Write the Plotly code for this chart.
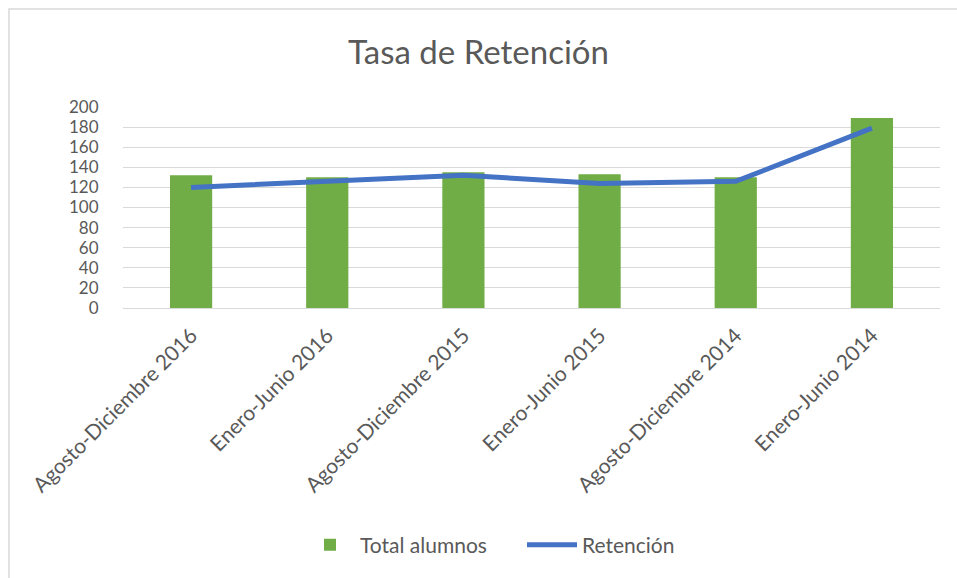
import plotly.graph_objects as go

categories = ["Agosto-Diciembre 2016", "Enero-Junio 2016", "Agosto-Diciembre 2015",
              "Enero-Junio 2015", "Agosto-Diciembre 2014", "Enero-Junio 2014"]
total_alumnos = [132, 130, 135, 133, 130, 189]
retencion = [120, 126, 132, 124, 126, 179]
y_ticks = [0, 20, 40, 60, 80, 100, 120, 140, 160, 180, 200]

FONT = "Lato"
GRAY = "#595959"

fig = go.Figure()
fig.add_trace(go.Bar(x=categories, y=total_alumnos, name="Total alumnos",
                     marker=dict(color="#70AD47", line=dict(width=0))))
fig.add_trace(go.Scatter(x=categories, y=retencion, name="Retención", mode="lines",
                         line=dict(color="#4472C4", width=5)))

L, R, T, B = 123, 17, 107, 270
W, H = 957, 578
pw, ph = W - L - R, H - T - B

fig.update_layout(
    width=W, height=H,
    margin=dict(l=L, r=R, t=T, b=B),
    paper_bgcolor="white", plot_bgcolor="white",
    font=dict(family=FONT, color=GRAY),
    title=dict(text="Tasa de Retención", x=0.5, xanchor="center",
               y=1 - 52 / H, yanchor="middle",
               font=dict(size=33, color=GRAY, family=FONT)),
    bargap=0.69,
    showlegend=True,
    legend=dict(orientation="h", x=(300 - L) / pw, xanchor="left",
                y=(H - B - 545) / ph, yanchor="middle",
                font=dict(size=21, color=GRAY), itemwidth=50,
                entrywidth=157, entrywidthmode="pixels"),
    xaxis=dict(tickangle=-45, tickfont=dict(size=21, color=GRAY),
               showgrid=False, showline=True, linecolor="#D9D9D9", linewidth=1,
               ticks="outside", tickcolor="rgba(0,0,0,0)", ticklen=6,
               fixedrange=True),
    yaxis=dict(range=[0, 200], tickvals=y_ticks, tickfont=dict(size=17, color=GRAY),
               showgrid=True, gridcolor="#D9D9D9", gridwidth=1, zeroline=False,
               ticks="outside", tickcolor="rgba(0,0,0,0)", ticklen=20,
               showline=False, fixedrange=True),
    shapes=[dict(type="rect", xref="paper", yref="paper",
                 x0=(9 - L) / pw, x1=(W + 5 - L) / pw,
                 y0=(H - B - (H + 5)) / ph, y1=(H - B - 9) / ph,
                 line=dict(color="#D9D9D9", width=1.5), fillcolor="rgba(0,0,0,0)",
                 layer="below")],
)

fig.write_html("out.html", config={"displayModeBar": False},
               post_script="document.body.style.margin='0';")
